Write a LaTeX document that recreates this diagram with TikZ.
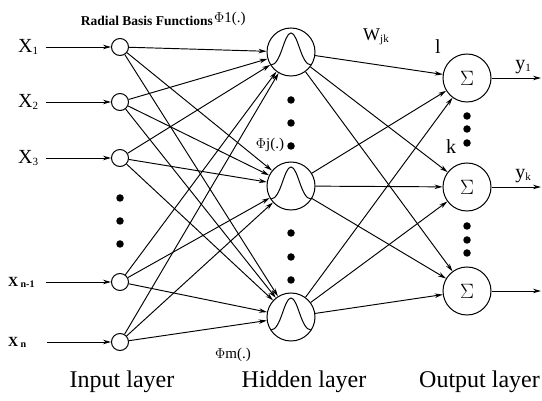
\documentclass[tikz,border=0pt]{standalone}
\usepackage{fontspec}
\setmainfont{Liberation Serif}
\usetikzlibrary{arrows.meta}
\newcommand{\fsz}[1]{\fontsize{#1}{#1}\selectfont}
\begin{document}
\begin{tikzpicture}[x=1pt,y=-1pt,
  inp/.style={circle,draw,minimum size=17pt,inner sep=0pt,line width=1pt},
  hid/.style={circle,draw,minimum size=48pt,inner sep=0pt,line width=1pt},
  outn/.style={circle,draw,minimum size=48pt,inner sep=0pt,line width=1pt,font=\fsz{22}},
  conn/.style={-{Stealth[length=8pt,width=4.5pt]},line width=0.95pt},
  dot/.style={circle,fill,inner sep=0pt,minimum size=7.5pt},
  lab/.style={inner sep=0pt,font=\fsz{20}},
  laysty/.style={inner sep=0pt,font=\fsz{24}},
  bump/.style={line width=1pt}]
\useasboundingbox (0,0) rectangle (542,401);
\fill[white] (0,0) rectangle (542,401);
% input layer
\node[inp] (i1) at (120,47) {};
\node[inp] (i2) at (120,102) {};
\node[inp] (i3) at (120,158) {};
\node[inp] (i4) at (120,282) {};
\node[inp] (i5) at (120,342) {};
\node[dot] (di1) at (120,198) {};
\node[dot] (di2) at (120,221) {};
\node[dot] (di3) at (120,244) {};
% hidden layer
\node[hid] (h1) at (291,52) {};
\node[hid] (h2) at (291,186) {};
\node[hid] (h3) at (291,317) {};
\foreach \h in {h1,h2,h3}{
  \draw[bump,shift={(\h.center)}] (-20,13) .. controls (-10,13) and (-7,-19) .. (0,-19) .. controls (7,-19) and (10,13) .. (20,13);
}
\node[dot] (dh1) at (291,100) {};
\node[dot] (dh2) at (291,123) {};
\node[dot] (dh3) at (291,146) {};
\node[dot] (dh4) at (291,233) {};
\node[dot] (dh5) at (291,257) {};
\node[dot] (dh6) at (291,280) {};
% output layer
\node[outn] (o1) at (467,78) {$\Sigma$};
\node[outn] (o2) at (467,187) {$\Sigma$};
\node[outn] (o3) at (467,291) {$\Sigma$};
\node[dot] (do1) at (467,116) {};
\node[dot] (do2) at (467,129) {};
\node[dot] (do3) at (467,143) {};
\node[dot] (do4) at (467,226) {};
\node[dot] (do5) at (467,240) {};
\node[dot] (do6) at (467,253) {};
% input arrows
\coordinate (s1) at (46,47);
\coordinate (s2) at (46,102);
\coordinate (s3) at (46,158);
\coordinate (s4) at (46,282);
\coordinate (s5) at (47,342);
\foreach \k in {1,...,5}{\draw[conn] (s\k) -- (i\k);}
% input labels
\node[lab,anchor=west] (lx1) at (18,47) {X\raisebox{-2pt}{\fsz{11}1}};
\node[lab,anchor=west] (lx2) at (18,102) {X\raisebox{-2pt}{\fsz{11}2}};
\node[lab,anchor=west] (lx3) at (18,158) {X\raisebox{-2pt}{\fsz{11}3}};
\node[lab,anchor=west,font=\fsz{14}\bfseries] (lx4) at (8,282) {X\,\raisebox{-1pt}{\fsz{10}n-1}};
\node[lab,anchor=west,font=\fsz{14}\bfseries] (lx5) at (8,342) {X\,\raisebox{-1pt}{\fsz{10}n}};
% input -> hidden
\foreach \i in {1,...,5}{
  \foreach \h in {1,2,3}{
    \draw[conn] (i\i) -- (h\h);
  }
}
% hidden -> output
\foreach \h in {1,2,3}{
  \foreach \o in {1,2,3}{
    \draw[conn] (h\h) -- (o\o);
  }
}
% output arrows
\coordinate (e1) at (541,78);
\coordinate (e2) at (541,187);
\coordinate (e3) at (541,291);
\foreach \k in {1,2,3}{\draw[conn] (o\k) -- (e\k);}
% labels
\node[inner sep=0pt,anchor=east,font=\fsz{13.5}\bfseries] (rbf) at (213,21) {Radial Basis Functions};
\node[inner sep=0pt,anchor=west,font=\fsz{15}] (phi1) at (214,19) {$\Phi$1(.)};
\node[inner sep=0pt,font=\fsz{15}] (phij) at (270,145) {$\Phi$j(.)};
\node[inner sep=0pt,font=\fsz{15}] (phim) at (233,355) {$\Phi$m(.)};
\node[inner sep=0pt,font=\fsz{18}] (w) at (376,37) {W\raisebox{-2pt}{\fsz{11}jk}};
\node[inner sep=0pt,font=\fsz{20}] (l1) at (438,47) {l};
\node[inner sep=0pt,font=\fsz{20}] (lk) at (451,147) {k};
\node[inner sep=0pt,font=\fsz{20}] (y1) at (523,67) {y\raisebox{-2pt}{\fsz{11}1}};
\node[inner sep=0pt,font=\fsz{20}] (yk) at (523,176) {y\raisebox{-2pt}{\fsz{11}k}};
\node[laysty] (li) at (122,382) {Input layer};
\node[laysty] (lh) at (304,382) {Hidden layer};
\node[laysty,anchor=west] (lo) at (419,382) {Output layer};
\end{tikzpicture}
\end{document}
